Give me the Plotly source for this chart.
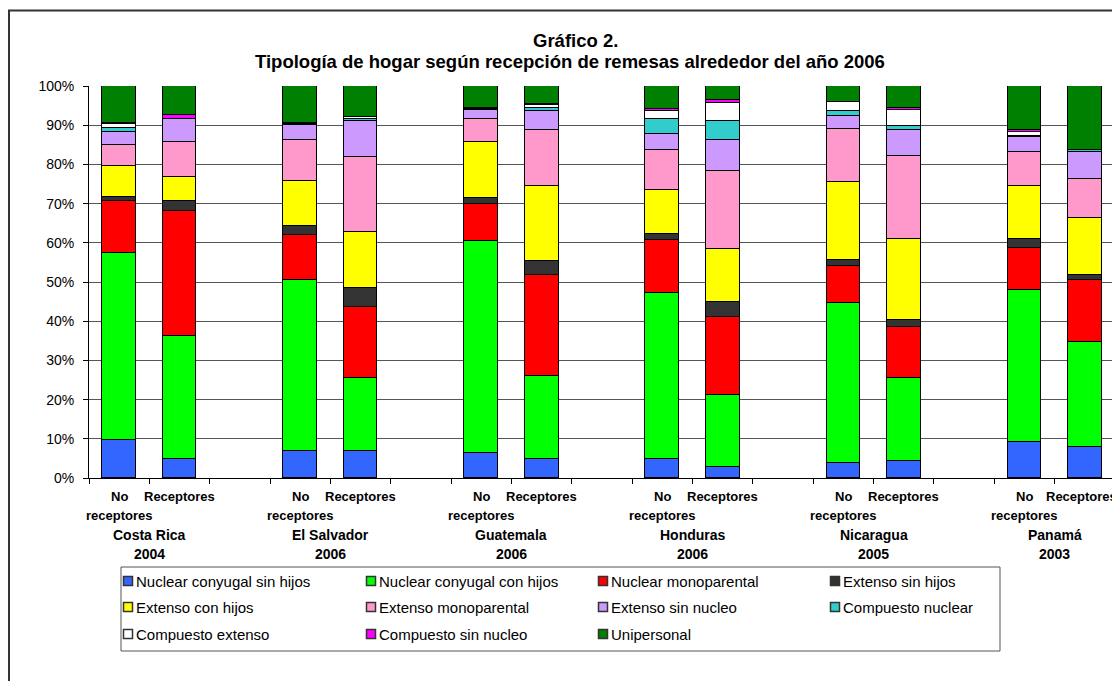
import plotly.graph_objects as go

# ---------------- data ----------------
countries = ["Costa Rica", "El Salvador", "Guatemala", "Honduras", "Nicaragua", "Panamá"]
years = ["2004", "2006", "2006", "2006", "2005", "2003"]
groups = ["No<br>receptores", "Receptores"]

series_names = [
    "Nuclear conyugal sin hijos", "Nuclear conyugal con hijos", "Nuclear monoparental",
    "Extenso sin hijos", "Extenso con hijos", "Extenso monoparental", "Extenso sin nucleo",
    "Compuesto nuclear", "Compuesto extenso", "Compuesto sin nucleo", "Unipersonal",
]
# order: CR No, CR Rec, ES No, ES Rec, GT No, GT Rec, HN No, HN Rec, NI No, NI Rec, PA No, PA Rec
nuclear_sin_hijos = [9.7, 4.9, 7.0, 7.0, 6.3, 4.9, 4.9, 2.9, 3.9, 4.3, 9.1, 7.8]
nuclear_con_hijos = [47.6, 31.2, 43.4, 18.4, 54.2, 21.0, 42.3, 18.4, 40.8, 21.1, 38.9, 27.0]
nuclear_monoparental = [13.4, 32.0, 11.5, 18.1, 9.3, 25.8, 13.4, 19.9, 9.3, 13.1, 10.8, 15.6]
extenso_sin_hijos = [1.0, 2.6, 2.5, 4.9, 1.6, 3.7, 1.6, 3.6, 1.5, 1.8, 2.1, 1.5]
extenso_con_hijos = [8.0, 6.0, 11.3, 14.3, 14.4, 19.1, 11.3, 13.7, 20.1, 20.6, 13.5, 14.4]
extenso_monoparental = [5.3, 9.0, 10.5, 19.2, 5.7, 14.2, 10.1, 19.8, 13.5, 21.3, 8.7, 10.0]
extenso_sin_nucleo = [3.2, 5.8, 3.9, 9.3, 2.4, 4.9, 4.1, 7.8, 3.3, 6.6, 3.8, 6.9]
compuesto_nuclear = [1.1, 0.1, 0.1, 0.3, 0.2, 0.7, 3.8, 5.1, 1.1, 1.1, 0.4, 0.5]
compuesto_extenso = [0.9, 0.1, 0.2, 0.5, 0.2, 0.8, 2.0, 4.4, 2.5, 4.1, 0.9, 0.1]
compuesto_sin_nucleo = [0.3, 1.0, 0.2, 0.0, 0.2, 0.4, 0.7, 0.8, 0.0, 0.4, 0.6, 0.0]
unipersonal = [9.5, 7.3, 9.4, 8.0, 5.5, 4.5, 5.8, 3.6, 4.0, 5.6, 11.2, 16.2]

series_values = [
    nuclear_sin_hijos, nuclear_con_hijos, nuclear_monoparental, extenso_sin_hijos,
    extenso_con_hijos, extenso_monoparental, extenso_sin_nucleo, compuesto_nuclear,
    compuesto_extenso, compuesto_sin_nucleo, unipersonal,
]
colors = ["#3366FF", "#00FF00", "#FF0000", "#333333", "#FFFF00", "#FF99CC",
          "#CC99FF", "#33CCCC", "#FFFFFF", "#FF00FF", "#008000"]

# ---------------- geometry helpers (page pixels -> paper) ----------------
OFF = 8                      # default page body margin
W, H = 1120 - OFF, 681 - OFF
L, R, T, B = 89, 1115, 86, 478   # plot area in page pixels


def px(x):
    return (x - L) / (R - L)


def py(y):
    return (B - y) / (B - T)


FONT = "Liberation Sans, Arial, sans-serif"

# x slot positions: each country has 3 slots (No, Rec, gap)
xpos = []
for g in range(len(countries)):
    xpos += [3 * g, 3 * g + 1]

fig = go.Figure()
for name, vals, col in zip(series_names, series_values, colors):
    fig.add_trace(go.Bar(
        x=xpos, y=vals, name=name, width=0.56,
        marker=dict(color=col, line=dict(color="#000000", width=1)),
        hovertemplate=name + ": %{y:.1f}%<extra></extra>",
    ))

annotations = []
# title
annotations.append(dict(
    text="<b>Gráfico 2.</b>", x=px(575), y=py(41), xref="paper", yref="paper",
    showarrow=False, font=dict(family=FONT, size=18.5, color="#000"), xanchor="center", yanchor="middle"))
annotations.append(dict(
    text="<b>Tipología de hogar según recepción de remesas alrededor del año 2006</b>",
    x=px(570), y=py(62), xref="paper", yref="paper",
    showarrow=False, font=dict(family=FONT, size=18.5, color="#000"), xanchor="center", yanchor="middle"))

# category labels
n = len(countries)
for g, (c, yr) in enumerate(zip(countries, years)):
    annotations.append(dict(
        text="<b>No</b>", x=3 * g, y=py(496), xref="x", yref="paper", showarrow=False,
        font=dict(family=FONT, size=13, color="#000"), xanchor="center", yanchor="middle"))
    annotations.append(dict(
        text="<b>receptores</b>", x=3 * g, y=py(515), xref="x", yref="paper", showarrow=False,
        font=dict(family=FONT, size=13, color="#000"), xanchor="center", yanchor="middle"))
    annotations.append(dict(
        text="<b>" + groups[1] + "</b>", x=3 * g + 1, y=py(496), xref="x", yref="paper",
        showarrow=False, font=dict(family=FONT, size=13, color="#000"),
        xanchor="center", yanchor="middle", xshift=(-3 if g == n - 1 else 0)))
    annotations.append(dict(
        text="<b>" + c + "</b>", x=3 * g + 0.5, y=py(535), xref="x", yref="paper",
        showarrow=False, font=dict(family=FONT, size=14, color="#000"),
        xanchor="center", yanchor="middle"))
    annotations.append(dict(
        text="<b>" + yr + "</b>", x=3 * g + 0.5, y=py(554), xref="x", yref="paper",
        showarrow=False, font=dict(family=FONT, size=14, color="#000"),
        xanchor="center", yanchor="middle"))

shapes = [
    # outer chart border (extends beyond right/bottom edges)
    dict(type="rect", xref="paper", yref="paper", x0=px(9), x1=px(1140), y0=py(10.5), y1=py(700),
         line=dict(color="#333333", width=2), fillcolor="rgba(0,0,0,0)", layer="below"),
    # right plot border
    dict(type="line", xref="paper", yref="paper", x0=1, x1=1, y0=0, y1=1,
         line=dict(color="#888888", width=1)),
    # legend box
    dict(type="rect", xref="paper", yref="paper", x0=px(121), x1=px(1000), y0=py(567), y1=py(651),
         line=dict(color="#555555", width=1), fillcolor="#FFFFFF"),
]

# legend (4 columns x 3 rows)
col_x = [128, 371, 603, 835]
row_y = [581, 607, 634]
for i, (name, col) in enumerate(zip(series_names, colors)):
    cx = col_x[i % 4]
    cy = row_y[i // 4]
    shapes.append(dict(
        type="rect", xref="paper", yref="paper",
        x0=px(cx - 4.5), x1=px(cx + 4.5), y0=py(cy - 4.5), y1=py(cy + 4.5),
        line=dict(color="#333333", width=1.5), fillcolor=col))
    annotations.append(dict(
        text=name, x=px(cx + 6), y=py(cy), xref="paper", yref="paper", showarrow=False,
        font=dict(family=FONT, size=15, color="#000"), xanchor="left", yanchor="middle"))

fig.update_layout(
    width=W, height=H,
    margin=dict(l=L - OFF, r=W - (R - OFF), t=T - OFF, b=H - (B - OFF), pad=0),
    paper_bgcolor="#FFFFFF", plot_bgcolor="#FFFFFF",
    barmode="stack", bargap=0,
    showlegend=False,
    xaxis=dict(
        range=[-0.5, 16.5], showgrid=False, zeroline=False,
        tickvals=[k + 0.5 for k in range(-1, 17)], ticktext=[""] * 18,
        ticks="outside", ticklen=5, tickcolor="#000", showline=True, linecolor="#000", linewidth=1,
    ),
    yaxis=dict(
        range=[0, 100], dtick=10, ticksuffix="%", showgrid=True, gridcolor="#555555", gridwidth=1,
        zeroline=False, showline=True, linecolor="#000", linewidth=1,
        ticks="outside", ticklen=5, tickcolor="#000", ticklabelstandoff=6,
        tickfont=dict(family=FONT, size=14, color="#000"),
    ),
    annotations=annotations,
    shapes=shapes,
)

fig.write_html("out.html")
